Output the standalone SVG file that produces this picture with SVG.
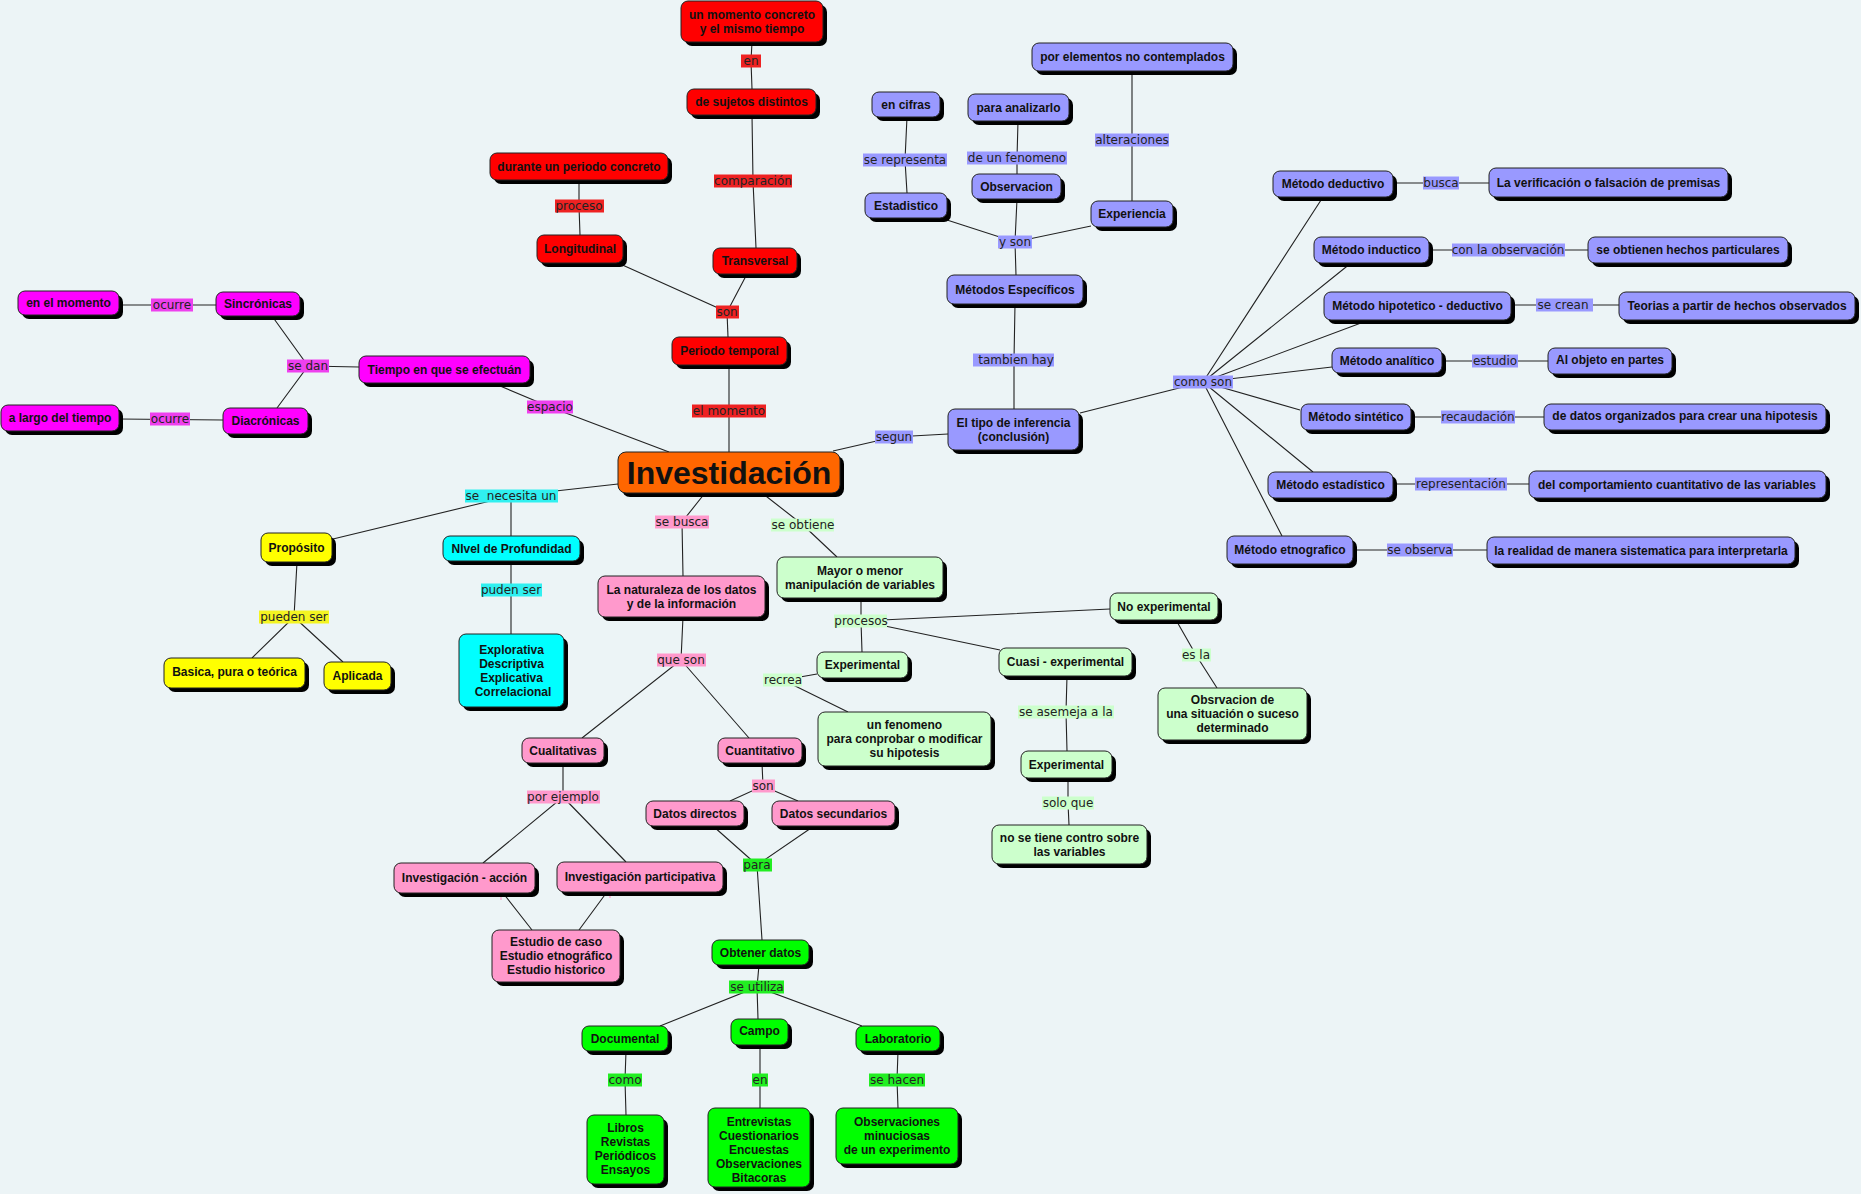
<svg xmlns="http://www.w3.org/2000/svg" width="1861" height="1194" viewBox="0 0 1861 1194">
<style>
.bg{fill:#ECF4F6}
.sh{fill:#000}
.b{stroke:#222;stroke-width:1}
.mag{fill:#FF00FF}.red{fill:#FF0000}.org{fill:#FF6600}.pur{fill:#9999FF}.yel{fill:#FFFF00}.cya{fill:#00FFFF}.pnk{fill:#FF99CC}.lgr{fill:#CCFFCC}.grn{fill:#00FF00}
.t{font-family:"Liberation Sans",Arial,sans-serif;font-weight:bold;font-size:12px;fill:#111;text-anchor:middle}
.big{font-size:32px}
.l{font-family:"DejaVu Sans",Verdana,sans-serif;font-size:12px;fill:#222;text-anchor:middle}
.lmag{fill:#EE40EE}.lred{fill:#EE2222}.lpur{fill:#9999FF}.lcya{fill:#30F0F0}.lyel{fill:#F4F422}.lpnk{fill:#FF99CC}.llgr{fill:#CCFFCC}.lgrn{fill:#22EE22}
.c{fill:none;stroke:#222;stroke-width:1.1}
</style>
<rect class="bg" x="0" y="0" width="1861" height="1194"/>
<g id="connectors">
<path class="c" d="M119,305 L216,305"/>
<path class="c" d="M272,316 L308,366 L277,408"/>
<path class="c" d="M308,366 L359,367"/>
<path class="c" d="M119,419 L223,420"/>
<path class="c" d="M493,383 L550,407 L669,452"/>
<path class="c" d="M752,42 L751,61 L752,89"/>
<path class="c" d="M752,115 L753,181 L756,248"/>
<path class="c" d="M579,180 L579,206 L580,235"/>
<path class="c" d="M618,263 L727,312 L747,274"/>
<path class="c" d="M727,312 L728,337"/>
<path class="c" d="M729,365 L729,452"/>
<path class="c" d="M907,117 L905,160 L907,193"/>
<path class="c" d="M947,220 L1015,242 L1091,226"/>
<path class="c" d="M1017,199 L1015,242 L1016,275"/>
<path class="c" d="M1018,121 L1017,158 L1017,174"/>
<path class="c" d="M1132,71 L1132,201"/>
<path class="c" d="M1015,304 L1014,360 L1014,409"/>
<path class="c" d="M833,451 L894,437 L948,434"/>
<path class="c" d="M1080,413 L1203,382"/>
<path class="c" d="M1203,382 L1323,197 M1203,382 L1351,263 M1203,382 L1369,320 M1203,382 L1332,367 M1203,382 L1300,410 M1203,382 L1313,472 M1203,382 L1282,536"/>
<path class="c" d="M1393,183 L1489,183"/>
<path class="c" d="M1429,250 L1588,250"/>
<path class="c" d="M1511,305 L1619,305"/>
<path class="c" d="M1442,361 L1548,361"/>
<path class="c" d="M1411,417 L1544,417"/>
<path class="c" d="M1393,484 L1529,484"/>
<path class="c" d="M1353,550 L1487,550"/>
<path class="c" d="M618,484 L511,496 L333,539"/>
<path class="c" d="M511,496 L511,536"/>
<path class="c" d="M511,561 L511,634"/>
<path class="c" d="M297,562 L294,617 L252,658 M294,617 L343,662"/>
<path class="c" d="M705,493 L682,522 L683,576"/>
<path class="c" d="M683,617 L681,660 L582,738 M681,660 L749,738"/>
<path class="c" d="M563,763 L563,797 L483,863 M563,797 L626,862"/>
<path class="c" d="M762,763 L763,786 L730,801 M763,786 L798,801"/>
<path class="c" d="M503,893 L532,930 M607,892 L579,930"/>
<path d="M501,895 L501,900 M610,894 L610,898" stroke="#FF99CC" stroke-width="1.2"/>
<path class="c" d="M713,826 L757,865 L814,826 M757,865 L762,940"/>
<path class="c" d="M762,493 L803,525 L837,557"/>
<path class="c" d="M861,598 L861,621 L862,652 M861,621 L1110,609 M861,621 L1000,650"/>
<path class="c" d="M817,674 L783,680 L848,712"/>
<path class="c" d="M1176,620 L1196,655 L1217,688"/>
<path class="c" d="M1067,676 L1066,712 L1067,751"/>
<path class="c" d="M1068,778 L1068,803 L1069,825"/>
<path class="c" d="M759,965 L757,987 L660,1026 M757,987 L758,1019 M757,987 L862,1026"/>
<path class="c" d="M626,1051 L625,1080 L626,1115"/>
<path class="c" d="M760,1045 L760,1080 L760,1108"/>
<path class="c" d="M898,1051 L897,1080 L898,1108"/>
</g>
<g id="labels">
<rect class="lmag" x="151" y="298.5" width="42" height="13"/><text class="l" x="172" y="309">ocurre</text>
<rect class="lmag" x="287" y="359.5" width="42" height="13"/><text class="l" x="308" y="370">se dan</text>
<rect class="lmag" x="150" y="412.5" width="40" height="13"/><text class="l" x="170" y="423">ocurre</text>
<rect class="lmag" x="527" y="400.5" width="46" height="13"/><text class="l" x="550" y="411">espacio</text>
<rect class="lred" x="741" y="54.5" width="20" height="13"/><text class="l" x="751" y="65">en</text>
<rect class="lred" x="714" y="174.5" width="78" height="13"/><text class="l" x="753" y="185">comparación</text>
<rect class="lred" x="555" y="199.5" width="49" height="13"/><text class="l" x="579" y="210">proceso</text>
<rect class="lred" x="716" y="305.5" width="23" height="13"/><text class="l" x="727" y="316">son</text>
<rect class="lred" x="692" y="404.5" width="74" height="13"/><text class="l" x="729" y="415">el momento</text>
<rect class="lpur" x="863" y="153.5" width="84" height="13"/><text class="l" x="905" y="164">se representa</text>
<rect class="lpur" x="967" y="151.5" width="100" height="13"/><text class="l" x="1017" y="162">de un fenomeno</text>
<rect class="lpur" x="1095" y="133.5" width="74" height="13"/><text class="l" x="1132" y="144">alteraciones</text>
<rect class="lpur" x="998" y="235.5" width="34" height="13"/><text class="l" x="1015" y="246">y son</text>
<rect class="lpur" x="973" y="353.5" width="81" height="13"/><text class="l" x="1016" y="364">tambien hay</text>
<rect class="lpur" x="875" y="430.5" width="38" height="13"/><text class="l" x="894" y="441">segun</text>
<rect class="lpur" x="1173" y="375.5" width="60" height="13"/><text class="l" x="1203" y="386">como son</text>
<rect class="lpur" x="1423" y="176.5" width="36" height="13"/><text class="l" x="1441" y="187">busca</text>
<rect class="lpur" x="1452" y="243.5" width="113" height="13"/><text class="l" x="1508" y="254">con la observación</text>
<rect class="lpur" x="1536" y="298.5" width="57" height="13"/><text class="l" x="1563" y="309">se crean</text>
<rect class="lpur" x="1472" y="354.5" width="46" height="13"/><text class="l" x="1495" y="365">estudio</text>
<rect class="lpur" x="1441" y="410.5" width="74" height="13"/><text class="l" x="1478" y="421">recaudación</text>
<rect class="lpur" x="1415" y="477.5" width="92" height="13"/><text class="l" x="1461" y="488">representación</text>
<rect class="lpur" x="1387" y="543.5" width="66" height="13"/><text class="l" x="1420" y="554">se observa</text>
<rect class="lcya" x="465" y="489.5" width="93" height="13"/><text class="l" x="511" y="500" xml:space="preserve">se  necesita un</text>
<rect class="lcya" x="481" y="583.5" width="61" height="13"/><text class="l" x="511" y="594">puden ser</text>
<rect class="lyel" x="259" y="610.5" width="70" height="13"/><text class="l" x="294" y="621">pueden ser</text>
<rect class="lpnk" x="655" y="515.5" width="54" height="13"/><text class="l" x="682" y="526">se busca</text>
<rect class="lpnk" x="657" y="653.5" width="49" height="13"/><text class="l" x="681" y="664">que son</text>
<rect class="lpnk" x="527" y="790.5" width="73" height="13"/><text class="l" x="563" y="801">por ejemplo</text>
<rect class="lpnk" x="752" y="779.5" width="23" height="13"/><text class="l" x="763" y="790">son</text>
<rect class="llgr" x="771" y="518.5" width="63" height="13"/><text class="l" x="803" y="529">se obtiene</text>
<rect class="llgr" x="834" y="614.5" width="53" height="13"/><text class="l" x="861" y="625">procesos</text>
<rect class="llgr" x="763" y="673.5" width="39" height="13"/><text class="l" x="783" y="684">recrea</text>
<rect class="llgr" x="1182" y="648.5" width="29" height="13"/><text class="l" x="1196" y="659">es la</text>
<rect class="llgr" x="1018" y="705.5" width="96" height="13"/><text class="l" x="1066" y="716">se asemeja a la</text>
<rect class="llgr" x="1042" y="796.5" width="52" height="13"/><text class="l" x="1068" y="807">solo que</text>
<rect class="lgrn" x="743" y="858.5" width="29" height="13"/><text class="l" x="757" y="869">para</text>
<rect class="lgrn" x="729" y="980.5" width="55" height="13"/><text class="l" x="757" y="991">se utiliza</text>
<rect class="lgrn" x="608" y="1073.5" width="34" height="13"/><text class="l" x="625" y="1084">como</text>
<rect class="lgrn" x="752" y="1073.5" width="16" height="13"/><text class="l" x="760" y="1084">en</text>
<rect class="lgrn" x="869" y="1073.5" width="56" height="13"/><text class="l" x="897" y="1084">se hacen</text>
</g>
<g id="n_enelmomento"><rect class="sh" x="22" y="295" width="101" height="24" rx="7"/><rect class="b mag" x="18" y="291" width="101" height="24" rx="7"/><text class="t" x="68.5" y="307">en el momento</text></g>
<g id="n_sincronicas"><rect class="sh" x="220" y="296" width="84" height="24" rx="7"/><rect class="b mag" x="216" y="292" width="84" height="24" rx="7"/><text class="t" x="258" y="308">Sincrónicas</text></g>
<g id="n_tiempo"><rect class="sh" x="363" y="360" width="171" height="27" rx="7"/><rect class="b mag" x="359" y="356" width="171" height="27" rx="7"/><text class="t" x="444.5" y="373.5">Tiempo en que se efectuán</text></g>
<g id="n_alargo"><rect class="sh" x="5" y="409" width="118" height="26" rx="7"/><rect class="b mag" x="1" y="405" width="118" height="26" rx="7"/><text class="t" x="60" y="422">a largo del tiempo</text></g>
<g id="n_diacronicas"><rect class="sh" x="227" y="412" width="85" height="26" rx="7"/><rect class="b mag" x="223" y="408" width="85" height="26" rx="7"/><text class="t" x="265.5" y="425">Diacrónicas</text></g>
<g id="n_unmomento"><rect class="sh" x="685" y="5" width="142" height="41" rx="7"/><rect class="b red" x="681" y="1" width="142" height="41" rx="7"/><text class="t" x="752" y="18.5">un momento concreto</text><text class="t" x="752" y="32.5">y el mismo tiempo</text></g>
<g id="n_sujetos"><rect class="sh" x="691" y="93" width="129" height="26" rx="7"/><rect class="b red" x="687" y="89" width="129" height="26" rx="7"/><text class="t" x="751.5" y="106">de sujetos distintos</text></g>
<g id="n_durante"><rect class="sh" x="494" y="157" width="178" height="27" rx="7"/><rect class="b red" x="490" y="153" width="178" height="27" rx="7"/><text class="t" x="579" y="170.5">durante un periodo concreto</text></g>
<g id="n_longitudinal"><rect class="sh" x="541" y="239" width="86" height="28" rx="7"/><rect class="b red" x="537" y="235" width="86" height="28" rx="7"/><text class="t" x="580" y="253">Longitudinal</text></g>
<g id="n_transversal"><rect class="sh" x="717" y="252" width="84" height="26" rx="7"/><rect class="b red" x="713" y="248" width="84" height="26" rx="7"/><text class="t" x="755" y="265">Transversal</text></g>
<g id="n_periodo"><rect class="sh" x="676" y="341" width="115" height="28" rx="7"/><rect class="b red" x="672" y="337" width="115" height="28" rx="7"/><text class="t" x="729.5" y="355">Periodo temporal</text></g>
<g id="n_investidacion"><rect class="sh" x="622" y="456" width="222" height="41" rx="8"/><rect class="b org" x="618" y="452" width="222" height="41" rx="8"/><text class="t big" x="729" y="484">Investidación</text></g>
<g id="n_encifras"><rect class="sh" x="876" y="96" width="68" height="25" rx="7"/><rect class="b pur" x="872" y="92" width="68" height="25" rx="7"/><text class="t" x="906" y="108.5">en cifras</text></g>
<g id="n_estadistico"><rect class="sh" x="869" y="197" width="82" height="25" rx="7"/><rect class="b pur" x="865" y="193" width="82" height="25" rx="7"/><text class="t" x="906" y="209.5">Estadistico</text></g>
<g id="n_paraanalizarlo"><rect class="sh" x="972" y="98" width="101" height="27" rx="7"/><rect class="b pur" x="968" y="94" width="101" height="27" rx="7"/><text class="t" x="1018.5" y="111.5">para analizarlo</text></g>
<g id="n_observacion"><rect class="sh" x="976" y="178" width="89" height="25" rx="7"/><rect class="b pur" x="972" y="174" width="89" height="25" rx="7"/><text class="t" x="1016.5" y="190.5">Observacion</text></g>
<g id="n_porelementos"><rect class="sh" x="1036" y="47" width="201" height="28" rx="7"/><rect class="b pur" x="1032" y="43" width="201" height="28" rx="7"/><text class="t" x="1132.5" y="61">por elementos no contemplados</text></g>
<g id="n_experiencia"><rect class="sh" x="1095" y="205" width="82" height="26" rx="7"/><rect class="b pur" x="1091" y="201" width="82" height="26" rx="7"/><text class="t" x="1132" y="218">Experiencia</text></g>
<g id="n_metodosesp"><rect class="sh" x="951" y="279" width="136" height="29" rx="7"/><rect class="b pur" x="947" y="275" width="136" height="29" rx="7"/><text class="t" x="1015" y="293.5">Métodos Específicos</text></g>
<g id="n_eltipo"><rect class="sh" x="952" y="413" width="131" height="41" rx="7"/><rect class="b pur" x="948" y="409" width="131" height="41" rx="7"/><text class="t" x="1013.5" y="426.5">El tipo de inferencia</text><text class="t" x="1013.5" y="440.5">(conclusión)</text></g>
<g id="n_deductivo"><rect class="sh" x="1277" y="175" width="120" height="26" rx="7"/><rect class="b pur" x="1273" y="171" width="120" height="26" rx="7"/><text class="t" x="1333" y="188">Método deductivo</text></g>
<g id="n_inductico"><rect class="sh" x="1318" y="241" width="115" height="26" rx="7"/><rect class="b pur" x="1314" y="237" width="115" height="26" rx="7"/><text class="t" x="1371.5" y="254">Método inductico</text></g>
<g id="n_hipotetico"><rect class="sh" x="1328" y="296" width="187" height="28" rx="7"/><rect class="b pur" x="1324" y="292" width="187" height="28" rx="7"/><text class="t" x="1417.5" y="310">Método hipotetico - deductivo</text></g>
<g id="n_analitico"><rect class="sh" x="1336" y="352" width="110" height="25" rx="7"/><rect class="b pur" x="1332" y="348" width="110" height="25" rx="7"/><text class="t" x="1387" y="364.5">Método analítico</text></g>
<g id="n_sintetico"><rect class="sh" x="1305" y="408" width="110" height="26" rx="7"/><rect class="b pur" x="1301" y="404" width="110" height="26" rx="7"/><text class="t" x="1356" y="421">Método sintético</text></g>
<g id="n_estadistico2"><rect class="sh" x="1272" y="476" width="125" height="26" rx="7"/><rect class="b pur" x="1268" y="472" width="125" height="26" rx="7"/><text class="t" x="1330.5" y="489">Método estadístico</text></g>
<g id="n_etnografico"><rect class="sh" x="1231" y="540" width="126" height="28" rx="7"/><rect class="b pur" x="1227" y="536" width="126" height="28" rx="7"/><text class="t" x="1290" y="554">Método etnografico</text></g>
<g id="n_verificacion"><rect class="sh" x="1493" y="172" width="239" height="29" rx="7"/><rect class="b pur" x="1489" y="168" width="239" height="29" rx="7"/><text class="t" x="1608.5" y="186.5">La verificación o falsación de premisas</text></g>
<g id="n_hechospart"><rect class="sh" x="1592" y="241" width="200" height="26" rx="7"/><rect class="b pur" x="1588" y="237" width="200" height="26" rx="7"/><text class="t" x="1688" y="254">se obtienen hechos particulares</text></g>
<g id="n_teorias"><rect class="sh" x="1623" y="296" width="236" height="28" rx="7"/><rect class="b pur" x="1619" y="292" width="236" height="28" rx="7"/><text class="t" x="1737" y="310">Teorias a partir de hechos observados</text></g>
<g id="n_alobjeto"><rect class="sh" x="1552" y="352" width="124" height="26" rx="7"/><rect class="b pur" x="1548" y="348" width="124" height="26" rx="7"/><text class="t" x="1610" y="364">Al objeto en partes</text></g>
<g id="n_dedatos"><rect class="sh" x="1548" y="408" width="282" height="26" rx="7"/><rect class="b pur" x="1544" y="404" width="282" height="26" rx="7"/><text class="t" x="1685" y="420">de datos organizados para crear una hipotesis</text></g>
<g id="n_delcomp"><rect class="sh" x="1533" y="475" width="297" height="27" rx="7"/><rect class="b pur" x="1529" y="471" width="297" height="27" rx="7"/><text class="t" x="1677" y="488.5">del comportamiento cuantitativo de las variables</text></g>
<g id="n_realidad"><rect class="sh" x="1491" y="541" width="308" height="27" rx="7"/><rect class="b pur" x="1487" y="537" width="308" height="27" rx="7"/><text class="t" x="1641" y="554.5">la realidad de manera sistematica para interpretarla</text></g>
<g id="n_proposito"><rect class="sh" x="265" y="537" width="71" height="29" rx="7"/><rect class="b yel" x="261" y="533" width="71" height="29" rx="7"/><text class="t" x="296.5" y="551.5">Propósito</text></g>
<g id="n_basica"><rect class="sh" x="168" y="662" width="141" height="30" rx="7"/><rect class="b yel" x="164" y="658" width="141" height="30" rx="7"/><text class="t" x="234.5" y="676">Basica, pura o teórica</text></g>
<g id="n_aplicada"><rect class="sh" x="328" y="666" width="67" height="28" rx="7"/><rect class="b yel" x="324" y="662" width="67" height="28" rx="7"/><text class="t" x="357.5" y="680">Aplicada</text></g>
<g id="n_nivel"><rect class="sh" x="447" y="540" width="137" height="25" rx="7"/><rect class="b cya" x="443" y="536" width="137" height="25" rx="7"/><text class="t" x="511.5" y="552.5">NIvel de Profundidad</text></g>
<g id="n_tipos"><rect class="sh" x="463" y="638" width="105" height="73" rx="7"/><rect class="b cya" x="459" y="634" width="105" height="73" rx="7"/><text class="t" x="511.5" y="653.5">Explorativa</text><text class="t" x="511.5" y="667.5">Descriptiva</text><text class="t" x="511.5" y="681.5">Explicativa</text><text class="t" x="513" y="695.5">Correlacional</text></g>
<g id="n_naturaleza"><rect class="sh" x="602" y="580" width="167" height="41" rx="7"/><rect class="b pnk" x="598" y="576" width="167" height="41" rx="7"/><text class="t" x="681.5" y="593.5">La naturaleza de los datos</text><text class="t" x="681.5" y="607.5">y de la información</text></g>
<g id="n_cualitativas"><rect class="sh" x="526" y="742" width="82" height="25" rx="7"/><rect class="b pnk" x="522" y="738" width="82" height="25" rx="7"/><text class="t" x="563" y="754.5">Cualitativas</text></g>
<g id="n_cuantitativo"><rect class="sh" x="722" y="742" width="84" height="25" rx="7"/><rect class="b pnk" x="718" y="738" width="84" height="25" rx="7"/><text class="t" x="760" y="754.5">Cuantitativo</text></g>
<g id="n_datosdirectos"><rect class="sh" x="650" y="805" width="98" height="25" rx="7"/><rect class="b pnk" x="646" y="801" width="98" height="25" rx="7"/><text class="t" x="695" y="817.5">Datos directos</text></g>
<g id="n_datossec"><rect class="sh" x="776" y="805" width="123" height="25" rx="7"/><rect class="b pnk" x="772" y="801" width="123" height="25" rx="7"/><text class="t" x="833.5" y="817.5">Datos secundarios</text></g>
<g id="n_invaccion"><rect class="sh" x="398" y="867" width="141" height="30" rx="7"/><rect class="b pnk" x="394" y="863" width="141" height="30" rx="7"/><text class="t" x="464.5" y="882">Investigación - acción</text></g>
<g id="n_invpart"><rect class="sh" x="561" y="866" width="166" height="30" rx="7"/><rect class="b pnk" x="557" y="862" width="166" height="30" rx="7"/><text class="t" x="640" y="881">Investigación participativa</text></g>
<g id="n_estudio"><rect class="sh" x="496" y="934" width="128" height="52" rx="7"/><rect class="b pnk" x="492" y="930" width="128" height="52" rx="7"/><text class="t" x="556" y="946">Estudio de caso</text><text class="t" x="556" y="960">Estudio etnográfico</text><text class="t" x="556" y="974">Estudio historico</text></g>
<g id="n_mayor"><rect class="sh" x="781" y="561" width="166" height="41" rx="7"/><rect class="b lgr" x="777" y="557" width="166" height="41" rx="7"/><text class="t" x="860" y="574.5">Mayor o menor</text><text class="t" x="860" y="588.5">manipulación de variables</text></g>
<g id="n_experimental"><rect class="sh" x="821" y="656" width="91" height="26" rx="7"/><rect class="b lgr" x="817" y="652" width="91" height="26" rx="7"/><text class="t" x="862.5" y="669">Experimental</text></g>
<g id="n_fenomeno"><rect class="sh" x="822" y="716" width="173" height="54" rx="7"/><rect class="b lgr" x="818" y="712" width="173" height="54" rx="7"/><text class="t" x="904.5" y="729">un fenomeno</text><text class="t" x="904.5" y="743">para conprobar o modificar</text><text class="t" x="904.5" y="757">su hipotesis</text></g>
<g id="n_noexp"><rect class="sh" x="1114" y="597" width="108" height="27" rx="7"/><rect class="b lgr" x="1110" y="593" width="108" height="27" rx="7"/><text class="t" x="1164" y="610.5">No experimental</text></g>
<g id="n_cuasi"><rect class="sh" x="1003" y="652" width="133" height="28" rx="7"/><rect class="b lgr" x="999" y="648" width="133" height="28" rx="7"/><text class="t" x="1065.5" y="666">Cuasi - experimental</text></g>
<g id="n_obsrvacion"><rect class="sh" x="1162" y="692" width="149" height="52" rx="7"/><rect class="b lgr" x="1158" y="688" width="149" height="52" rx="7"/><text class="t" x="1232.5" y="704">Obsrvacion de</text><text class="t" x="1232.5" y="718">una situación o suceso</text><text class="t" x="1232.5" y="732">determinado</text></g>
<g id="n_experimental2"><rect class="sh" x="1025" y="755" width="91" height="27" rx="7"/><rect class="b lgr" x="1021" y="751" width="91" height="27" rx="7"/><text class="t" x="1066.5" y="768.5">Experimental</text></g>
<g id="n_nosetiene"><rect class="sh" x="996" y="829" width="155" height="39" rx="7"/><rect class="b lgr" x="992" y="825" width="155" height="39" rx="7"/><text class="t" x="1069.5" y="841.5">no se tiene contro sobre</text><text class="t" x="1069.5" y="855.5">las variables</text></g>
<g id="n_obtener"><rect class="sh" x="716" y="944" width="97" height="25" rx="7"/><rect class="b grn" x="712" y="940" width="97" height="25" rx="7"/><text class="t" x="760.5" y="956.5">Obtener datos</text></g>
<g id="n_documental"><rect class="sh" x="586" y="1030" width="86" height="25" rx="7"/><rect class="b grn" x="582" y="1026" width="86" height="25" rx="7"/><text class="t" x="625" y="1042.5">Documental</text></g>
<g id="n_campo"><rect class="sh" x="735" y="1023" width="57" height="26" rx="7"/><rect class="b grn" x="731" y="1019" width="57" height="26" rx="7"/><text class="t" x="759.5" y="1035">Campo</text></g>
<g id="n_laboratorio"><rect class="sh" x="860" y="1030" width="84" height="25" rx="7"/><rect class="b grn" x="856" y="1026" width="84" height="25" rx="7"/><text class="t" x="898" y="1042.5">Laboratorio</text></g>
<g id="n_libros"><rect class="sh" x="591" y="1119" width="77" height="69" rx="7"/><rect class="b grn" x="587" y="1115" width="77" height="69" rx="7"/><text class="t" x="625.5" y="1132">Libros</text><text class="t" x="625.5" y="1146">Revistas</text><text class="t" x="625.5" y="1160">Periódicos</text><text class="t" x="625.5" y="1174">Ensayos</text></g>
<g id="n_entrevistas"><rect class="sh" x="712" y="1112" width="102" height="79" rx="7"/><rect class="b grn" x="708" y="1108" width="102" height="79" rx="7"/><text class="t" x="759" y="1125.5">Entrevistas</text><text class="t" x="759" y="1139.5">Cuestionarios</text><text class="t" x="759" y="1153.5">Encuestas</text><text class="t" x="759" y="1167.5">Observaciones</text><text class="t" x="759" y="1181.5">Bitacoras</text></g>
<g id="n_observaciones"><rect class="sh" x="840" y="1112" width="122" height="56" rx="7"/><rect class="b grn" x="836" y="1108" width="122" height="56" rx="7"/><text class="t" x="897" y="1126">Observaciones</text><text class="t" x="897" y="1140">minuciosas</text><text class="t" x="897" y="1154">de un experimento</text></g>
</svg>
